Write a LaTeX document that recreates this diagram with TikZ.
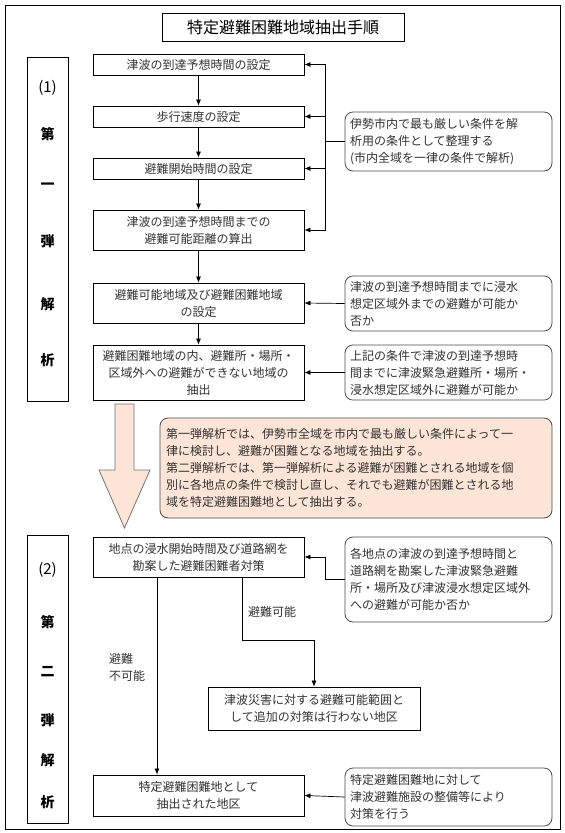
\documentclass[tikz,border=0pt]{standalone}
\usepackage{fontspec}
\setmainfont{Noto Sans CJK JP}
\usetikzlibrary{arrows.meta}
\definecolor{peach}{HTML}{FCE4D6}
\definecolor{txt}{HTML}{333333}
\begin{document}
\begin{tikzpicture}[x=1pt,y=-1pt,
  box/.style={draw=black,line width=0.8pt,minimum width=211,inner sep=1pt,align=center,text=txt,font=\fontsize{12}{17}\selectfont},
  note/.style={draw=black!70,line width=0.8pt,rounded corners=8pt,minimum width=207,text width=197,inner sep=5pt,align=left,text=txt,font=\fontsize{12}{17}\selectfont},
  lbl/.style={text=txt,font=\fontsize{12}{17}\selectfont,align=left},
  side/.style={font=\fontsize{14}{17}\selectfont\bfseries,text=black},
  sidenum/.style={font=\fontsize{15}{17}\selectfont,text=black},
  arr/.style={-{Latex[length=6pt,width=5pt]},line width=0.7pt},
  ln/.style={line width=0.7pt}]
\useasboundingbox (0,0) rectangle (565,833);
\fill[white] (0,0) rectangle (565,833);
\draw[line width=0.8pt] (5,5) rectangle (560,829);
\node[draw,line width=0.8pt,minimum width=242,minimum height=28,inner sep=0pt,font=\fontsize{16}{18}\selectfont] (title) at (283,27) {特定避難困難地域抽出手順};
% side labels
\draw[line width=0.8pt] (27,57) rectangle (68,401);
\node[sidenum] (s1a) at (47.5,88) {(1)};
\node[side] (s1b) at (47.5,134) {第};
\node[side] (s1c) at (47.5,186) {一};
\node[side] (s1d) at (47.5,241) {弾};
\node[side] (s1e) at (47.5,304) {解};
\node[side] (s1f) at (47.5,360) {析};
\draw[line width=0.8pt] (27,535) rectangle (68,823);
\node[sidenum] (s2a) at (47.5,570) {(2)};
\node[side] (s2b) at (47.5,622) {第};
\node[side] (s2c) at (47.5,672) {二};
\node[side] (s2d) at (47.5,720) {弾};
\node[side] (s2e) at (47.5,760) {解};
\node[side] (s2f) at (47.5,802) {析};
% first phase boxes
\node[box,minimum height=21] (a1) at (198.5,64.5) {津波の到達予想時間の設定};
\node[box,minimum height=21] (a2) at (198.5,116.5) {歩行速度の設定};
\node[box,minimum height=21] (a3) at (198.5,168.5) {避難開始時間の設定};
\node[box,minimum height=40] (a4) at (198.5,230) {津波の到達予想時間までの\\避難可能距離の算出};
\node[box,minimum height=40] (a5) at (198.5,303) {避難可能地域及び避難困難地域\\の設定};
\node[box,minimum height=55] (a6) at (198.5,372.5) {避難困難地域の内、避難所・場所・\\区域外への避難ができない地域の\\抽出};
\node[note,minimum height=59] (n1) at (448.5,141.5) {伊勢市内で最も厳しい条件を解\\析用の条件として整理する\\(市内全域を一律の条件で解析)};
\node[note,minimum height=55] (n2) at (448.5,303.5) {津波の到達予想時間までに浸水\\想定区域外までの避難が可能か\\否か};
\node[note,minimum height=55] (n3) at (448.5,372.5) {上記の条件で津波の到達予想時\\間までに津波緊急避難所・場所・\\浸水想定区域外に避難が可能か};
\draw[arr] (a1) -- (a2);
\draw[arr] (a2) -- (a3);
\draw[arr] (a3) -- (a4);
\draw[arr] (a4) -- (a5);
\draw[arr] (a5) -- (a6);
\coordinate (fb) at (325,141.5);
\draw[ln] (n1.west) -- (fb);
\draw[arr] (fb) |- (a1.east);
\draw[arr] (fb) |- (a2.east);
\draw[arr] (fb) |- (a3.east);
\draw[arr] (fb) |- (a4.east);
\draw[arr] (n2.west) -- (a5.east);
\draw[arr] (n3.west) -- (a6.east);
% block arrow
\draw[fill=peach,draw=black!55,line width=0.8pt] (115,404) -- (134,404) -- (134,470) -- (150,470) -- (124.5,528) -- (99,470) -- (115,470) -- cycle;
\node[note,fill=peach,minimum width=392,text width=380,minimum height=100] (n4) at (356,468) {第一弾解析では、伊勢市全域を市内で最も厳しい条件によって一\\律に検討し、避難が困難となる地域を抽出する。\\第二弾解析では、第一弾解析による避難が困難とされる地域を個\\別に各地点の条件で検討し直し、それでも避難が困難とされる地\\域を特定避難困難地として抽出する。};
% second phase
\node[box,minimum height=40] (b1) at (198.5,557) {地点の浸水開始時間及び道路網を\\勘案した避難困難者対策};
\node[note,minimum height=85] (n5) at (448.5,579.5) {各地点の津波の到達予想時間と\\道路網を勘案した津波緊急避難\\所・場所及び津波浸水想定区域外\\への避難が可能か否か};
\node[box,minimum width=212,minimum height=43] (b2) at (314,708.5) {津波災害に対する避難可能範囲と\\して追加の対策は行わない地区};
\node[box,minimum height=41] (b3) at (198.5,795.5) {特定避難困難地として\\抽出された地区};
\node[note,minimum height=58] (n6) at (448.5,797) {特定避難困難地に対して\\津波避難施設の整備等により\\対策を行う};
\coordinate (fb2) at (325,579.5);
\draw[ln] (n5.west) -- (fb2);
\draw[arr] (fb2) |- (b1.east);
\coordinate (k1) at (242,640);
\draw[arr] (b1.south -| k1) -- (k1) -| (b2.north);
\draw[arr] (b1.south -| 157,0) -- (b3.north -| 157,0);
\draw[arr] (n6.west) -- (b3.east);
\node[lbl] (l1) at (272,612) {避難可能};
\node[lbl] (l2) at (127,667) {避難\\不可能};
\end{tikzpicture}
\end{document}
